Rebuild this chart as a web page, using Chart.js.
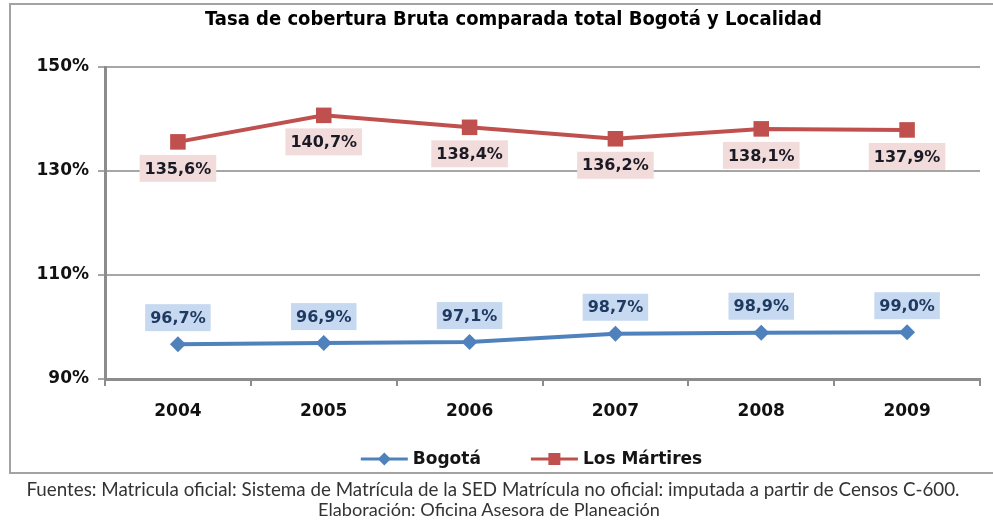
<!DOCTYPE html>
<html>
<head>
<meta charset="utf-8">
<script src="https://cdn.jsdelivr.net/npm/chart.js@4/dist/chart.umd.min.js"></script>
<style>
html,body{margin:0;padding:0;background:#fff;width:993px;height:521px;overflow:hidden;}
#frame{position:absolute;left:9px;top:3px;width:1000px;height:471px;border:2px solid #a3a3a3;box-sizing:border-box;}
#c{position:absolute;left:0;top:0;}
.note{position:absolute;left:0;width:1010px;text-align:center;font-family:Lato,"DejaVu Sans",sans-serif;color:#333;white-space:nowrap;line-height:20px;}
.note span{display:inline-block;}
#n1{top:479px;}
#n2{top:499px;}
</style>
</head>
<body>
<div id="frame"></div>
<canvas id="c" width="993" height="521"></canvas>
<div class="note" id="n1"><span id="s1">Fuentes: Matricula oficial: Sistema de Matrícula de la SED Matrícula no oficial: imputada a partir de Censos C-600.</span></div>
<div class="note" id="n2"><span id="s2">Elaboración: Oficina Asesora de Planeación</span></div>
<script>
// ---- data ----
const years = ['2004', '2005', '2006', '2007', '2008', '2009'];
const bogota = [96.7, 96.9, 97.1, 98.7, 98.9, 99.0];
const martires = [135.6, 140.7, 138.4, 136.2, 138.1, 137.9];
const yTicks = [90, 110, 130, 150];
const seriesNames = ['Bogotá', 'Los Mártires'];
const chartTitle = 'Tasa de cobertura Bruta comparada total Bogotá y Localidad';

const fmt = v => v.toFixed(1).replace('.', ',') + '%';
const FONT = '"DejaVu Sans", sans-serif';

const labelStyles = [
  { above: true, bg: '#c6d9f1', color: '#1f3a60' },
  { above: false, bg: '#f2dcdb', color: '#1a1a24' }
];

const titlePlugin = {
  id: 'customTitle',
  afterDraw(chart) {
    const ctx = chart.ctx;
    ctx.save();
    ctx.font = 'bold 20px "DejaVu Sans Condensed", "DejaVu Sans", sans-serif';
    ctx.fillStyle = '#000';
    ctx.textAlign = 'center';
    ctx.textBaseline = 'middle';
    const cx = (chart.chartArea.left + chart.chartArea.right) / 2 - 29;
    ctx.fillText(chartTitle, cx, chart.chartArea.top - 47);
    ctx.restore();
  }
};

const valueLabels = {
  id: 'valueLabels',
  afterDatasetsDraw(chart) {
    const ctx = chart.ctx;
    ctx.save();
    ctx.font = 'bold 16px ' + FONT;
    ctx.textAlign = 'center';
    ctx.textBaseline = 'middle';
    chart.data.datasets.forEach((ds, di) => {
      const meta = chart.getDatasetMeta(di);
      const st = labelStyles[di];
      meta.data.forEach((pt, i) => {
        const txt = fmt(ds.data[i]);
        const w = ctx.measureText(txt).width + 10;
        const h = 27;
        const y0 = st.above ? pt.y - 13 - h : pt.y + 13;
        ctx.fillStyle = st.bg;
        ctx.fillRect(pt.x - w / 2, y0, w, h);
        ctx.fillStyle = st.color;
        ctx.fillText(txt, pt.x, y0 + h / 2 + 1);
      });
    });
    ctx.restore();
  }
};

const customLegend = {
  id: 'customLegend',
  afterDraw(chart) {
    const ctx = chart.ctx;
    ctx.save();
    ctx.font = 'bold 17px ' + FONT;
    const lineLen = 47, gapText = 5, gapItems = 50;
    const items = chart.data.datasets.map(ds => ({
      ds, w: lineLen + gapText + ctx.measureText(ds.label).width
    }));
    const total = items.reduce((a, it) => a + it.w, 0) + gapItems * (items.length - 1);
    const cx = (chart.chartArea.left + chart.chartArea.right) / 2 - 11;
    const cy = chart.chartArea.bottom + 80;
    let x = cx - total / 2;
    items.forEach(it => {
      const ds = it.ds;
      ctx.strokeStyle = ds.borderColor;
      ctx.lineWidth = 3;
      ctx.beginPath();
      ctx.moveTo(x, cy);
      ctx.lineTo(x + lineLen, cy);
      ctx.stroke();
      const mx = x + lineLen / 2;
      ctx.fillStyle = ds.backgroundColor;
      ctx.beginPath();
      if (ds.pointStyle === 'rectRot') {
        const r = 6.5;
        ctx.moveTo(mx, cy - r); ctx.lineTo(mx + r, cy); ctx.lineTo(mx, cy + r); ctx.lineTo(mx - r, cy);
        ctx.closePath();
      } else {
        const s = 6;
        ctx.rect(mx - s, cy - s, 2 * s, 2 * s);
      }
      ctx.fill();
      ctx.fillStyle = '#141414';
      ctx.textAlign = 'left';
      ctx.textBaseline = 'middle';
      ctx.fillText(ds.label, x + lineLen + gapText, cy + 1);
      x += it.w + gapItems;
    });
    ctx.restore();
  }
};

new Chart(document.getElementById('c'), {
  type: 'line',
  data: {
    labels: years,
    datasets: [
      {
        label: seriesNames[0], data: bogota,
        borderColor: '#4f81bd', backgroundColor: '#4f81bd',
        borderWidth: 4, pointStyle: 'rectRot', pointRadius: 8,
        pointBorderWidth: 0, tension: 0
      },
      {
        label: seriesNames[1], data: martires,
        borderColor: '#c0504d', backgroundColor: '#c0504d',
        borderWidth: 4, pointStyle: 'rect', pointRadius: 11,
        pointBorderWidth: 0, tension: 0
      }
    ]
  },
  options: {
    responsive: false,
    animation: false,
    devicePixelRatio: 1,
    layout: { padding: { left: 0, right: 13, top: 67, bottom: 102 } },
    plugins: {
      legend: { display: false },
      tooltip: { enabled: false },
      title: { display: false }
    },
    scales: {
      x: {
        offset: true,
        afterFit: s => { s.height = 40; },
        grid: { offset: true, drawOnChartArea: false, drawTicks: true, tickLength: 7, color: '#8c8c8c', lineWidth: 2 },
        border: { color: '#8c8c8c', width: 3 },
        ticks: { color: '#111', font: { family: FONT, size: 17, weight: 'bold' }, padding: 15 }
      },
      y: {
        min: 90, max: 150,
        afterFit: s => { s.width = 105; },
        afterBuildTicks: s => { s.ticks = yTicks.map(v => ({ value: v })); },
        grid: { color: '#a6a6a6', lineWidth: 2, tickLength: 7 },
        border: { color: '#8c8c8c', width: 3 },
        ticks: { color: '#111', font: { family: FONT, size: 17, weight: 'bold' }, padding: 9,
                 callback: v => v + '%' }
      }
    }
  },
  plugins: [valueLabels, customLegend, titlePlugin]
});

function fitNote(id, target) {
  const el = document.getElementById(id);
  el.style.fontSize = '16px';
  const w = el.getBoundingClientRect().width;
  el.style.fontSize = (16 * target / w).toFixed(2) + 'px';
}
fitNote('s1', 934);
fitNote('s2', 342);
document.getElementById('n1').style.left = '-12px';
document.getElementById('n2').style.left = '-16px';
</script>
</body>
</html>
